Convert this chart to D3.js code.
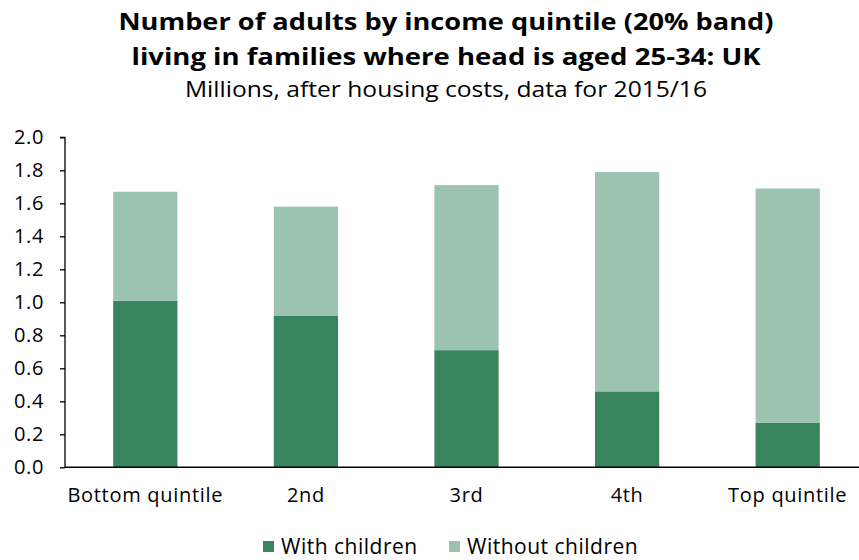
<!DOCTYPE html>
<html>
<head>
<meta charset="utf-8">
<script src="https://cdn.jsdelivr.net/npm/d3@7"></script>
<style>
  body { margin: 0; background: #fff; }
  svg { display: block; }
</style>
</head>
<body>
<svg id="chart"></svg>
<script>
const categories = ["Bottom quintile", "2nd", "3rd", "4th", "Top quintile"];
const withChildren = [1.01, 0.92, 0.71, 0.46, 0.27];
const withoutChildren = [0.66, 0.66, 1.00, 1.33, 1.42];
const yTicks = [0, 0.2, 0.4, 0.6, 0.8, 1.0, 1.2, 1.4, 1.6, 1.8, 2.0];
const seriesNames = ["With children", "Without children"];
const colours = ["#37845e", "#9cc3af"];

const W = 859, H = 560;
const FONT = "'Open Sans', 'Noto Sans', sans-serif";
const plot = { left: 65, right: 868, top: 137.3, bottom: 467.3 };

const svg = d3.select("#chart").attr("width", W).attr("height", H);

// Titles
const titleLines = [
  { text: "Number of adults by income quintile (20% band)", y: 30, len: 655, bold: true, size: 23 },
  { text: "living in families where head is aged 25-34: UK", y: 65, len: 629, bold: true, size: 23 },
  { text: "Millions, after housing costs, data for 2015/16", y: 97, len: 522, bold: false, size: 21 }
];
titleLines.forEach(t => {
  svg.append("text")
    .attr("x", 446).attr("y", t.y)
    .attr("text-anchor", "middle")
    .attr("textLength", t.len).attr("lengthAdjust", "spacingAndGlyphs")
    .style("font-family", FONT).style("font-weight", t.bold ? "bold" : "normal")
    .style("font-size", t.size + "px").style("fill", "#000")
    .text(t.text);
});

// Scales
const x = d3.scaleBand().domain(categories).range([plot.left, plot.right]).paddingInner(0.6).paddingOuter(0.3);
const y = d3.scaleLinear().domain([0, 2]).range([plot.bottom, plot.top]);

// Stack
const rows = categories.map((c, i) => ({ cat: c, a: withChildren[i], b: withoutChildren[i] }));
const stack = d3.stack().keys(["a", "b"])(rows);

svg.append("g").selectAll("g")
  .data(stack).join("g")
  .attr("fill", (d, i) => colours[i])
  .selectAll("rect")
  .data(d => d).join("rect")
  .attr("x", d => x(d.data.cat))
  .attr("y", d => y(d[1]))
  .attr("width", x.bandwidth())
  .attr("height", d => y(d[0]) - y(d[1]));

// Y axis
svg.append("g")
  .attr("transform", `translate(${plot.left},0)`)
  .call(d3.axisLeft(y).tickValues(yTicks).tickFormat(d3.format(".1f")).tickSize(5).tickPadding(16))
  .call(ax => {
    ax.select(".domain").attr("stroke", "#000").attr("stroke-width", 1.3).attr("d", `M-5,${plot.top}H0V${plot.bottom}`);
    ax.selectAll(".tick line").attr("stroke", "#000").attr("stroke-width", 1.3);
    ax.selectAll(".tick text").style("font-family", FONT).style("font-size", "20px")
      .style("letter-spacing", "0.6px").style("fill", "#000");
  });

// X axis
svg.append("g")
  .attr("transform", `translate(0,${plot.bottom})`)
  .call(d3.axisBottom(x).tickSize(0).tickPadding(21))
  .call(ax => {
    ax.select(".domain").attr("stroke", "#000").attr("stroke-width", 1.5).attr("d", `M${plot.left},0H${W}`);
    ax.selectAll(".tick text").style("font-family", FONT).style("font-size", "20px")
      .style("letter-spacing", "0.7px").style("fill", "#000");
  });

// Legend
const legend = svg.append("g");
const legX = [263, 449];
seriesNames.forEach((name, i) => {
  legend.append("rect")
    .attr("x", legX[i]).attr("y", 541).attr("width", 11).attr("height", 11)
    .attr("fill", colours[i]);
  legend.append("text")
    .attr("x", legX[i] + 18).attr("y", 554)
    .style("font-family", FONT).style("font-size", "21px")
    .style("letter-spacing", "0.5px").style("fill", "#000")
    .text(name);
});
</script>
</body>
</html>
